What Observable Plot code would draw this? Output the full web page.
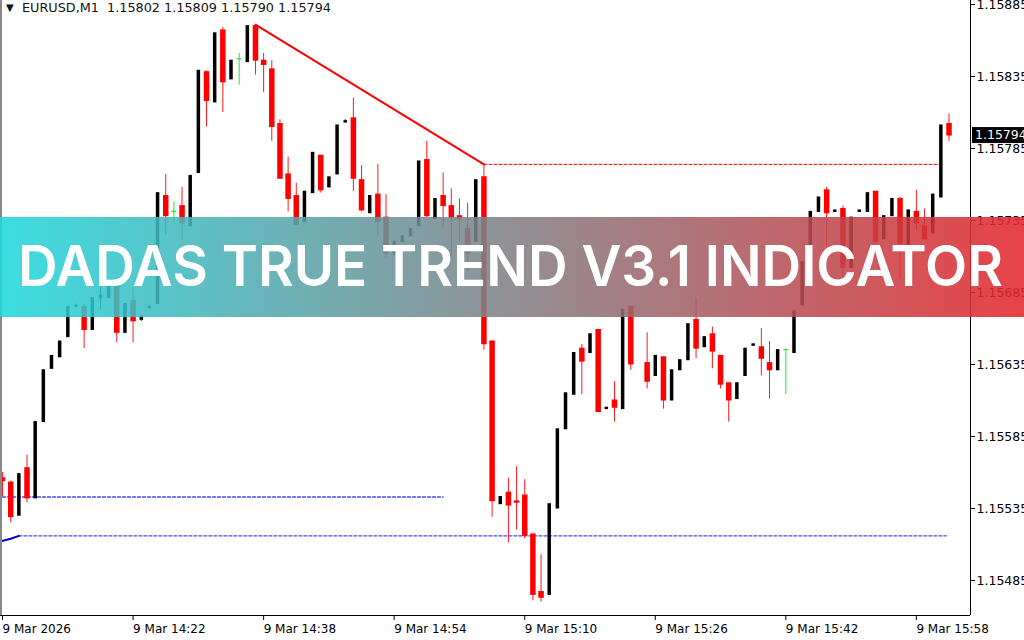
<!DOCTYPE html>
<html>
<head>
<meta charset="utf-8">
<script src="https://cdn.jsdelivr.net/npm/d3@7"></script>
<script src="https://cdn.jsdelivr.net/npm/@observablehq/plot@0.6"></script>
<style>
  html, body { margin: 0; padding: 0; background: #fff; width: 1024px; height: 640px; overflow: hidden; }
  #wrap { position: relative; width: 1024px; height: 640px; font-family: "DejaVu Sans", sans-serif; }
  #wrap > svg.plotchart { position: absolute; left: 0; top: 0; }
  #hdr { position: absolute; left: 6px; top: 0px; font-size: 12.8px; color: #111; white-space: pre; line-height: 16px; }
  #hdr .tri { font-size: 10px; display: inline-block; width: 16px; vertical-align: 1px; }
  #banner { position: absolute; left: 0; top: 217px; }
</style>
</head>
<body>
<div id="wrap">
  <div id="hdr"><span class="tri">▼</span><span id="hdrtext"></span></div>
  <svg id="banner" width="1024" height="100">
    <defs>
      <linearGradient id="bg" x1="0" x2="1" y1="0" y2="0">
        <stop offset="0" stop-color="#1fd8dd"/>
        <stop offset="1" stop-color="#e4262c"/>
      </linearGradient>
    </defs>
    <rect width="1024" height="100" fill="url(#bg)" opacity="0.87"/>
    <text x="18" y="69" fill="#fff" font-family="Inter, 'Open Sans', sans-serif" font-size="56" font-weight="600" textLength="985" lengthAdjust="spacingAndGlyphs">DADAS TRUE TREND V3.1 INDICATOR</text>
  </svg>
</div>
<script>
// ---------- data ----------
const symbol = "EURUSD";
const period = "M1";
const startTime = "2026-03-09T14:06:00Z";   // first bar; one bar per minute (null = no bar)

const opens = [
 1.15556,1.15553,1.15530,1.15563,1.15542,1.15595,1.15632,1.15640,1.15654,1.15675,
 1.15675,1.15659,1.15681,1.15681,1.15691,1.15657,1.15679,1.15666,1.15674,1.15677,
 1.15752,1.15741,1.15745,1.15731,1.15768,1.15838,1.15817,1.15867,1.15833,1.15847,
 1.15845,1.15870,1.15846,1.15840,1.15802,1.15767,1.15752,1.15734,1.15754,1.15780,
 1.15758,1.15767,1.15803,1.15806,1.15763,1.15740,1.15753,1.15737,1.15712,1.15720,
 1.15724,1.15731,1.15777,1.15736,1.15752,1.15745,1.15738,1.15729,1.15720,1.15765,
 1.15651,1.15538,1.15546,1.15540,1.15544,1.15517,1.15477,1.15475,1.15535,1.15590,
 1.15614,1.15646,1.15643,1.15659,1.15604,1.15610,1.15604,1.15675,null,1.15636,
 1.15627,1.15640,1.15610,1.15631,1.15638,1.15666,1.15647,1.15656,1.15641,1.15622,
 1.15611,1.15627,1.15648,1.15647,1.15636,1.15631,1.15645,1.15643,1.15676,1.15706,
 1.15741,1.15756,1.15741,1.15743,1.15702,1.15741,1.15741,1.15755,1.15722,1.15738,
 1.15750,1.15718,1.15741,1.15731,1.15726,1.15751,1.15802
];
const highs = [
 1.15560,1.15554,1.15559,1.15572,1.15595,1.15631,1.15641,1.15651,1.15675,1.15677,
 1.15677,1.15681,1.15691,1.15691,1.15692,1.15677,1.15688,1.15669,1.15676,1.15754,
 1.15767,1.15748,1.15758,1.15766,1.15839,1.15839,1.15865,1.15869,1.15846,1.15851,
 1.15870,1.15871,1.15851,1.15846,1.15805,1.15779,1.15761,1.15755,1.15782,1.15780,
 1.15765,1.15801,1.15805,1.15820,1.15773,1.15752,1.15774,1.15753,1.15721,1.15724,
 1.15729,1.15776,1.15790,1.15750,1.15768,1.15757,1.15750,1.15747,1.15763,1.15774,
 1.15651,1.15543,1.15556,1.15564,1.15555,1.15517,1.15503,1.15538,1.15590,1.15615,
 1.15643,1.15649,1.15656,1.15659,1.15605,1.15623,1.15673,1.15676,null,1.15657,
 1.15641,1.15640,1.15631,1.15638,1.15663,1.15681,1.15654,1.15661,1.15641,1.15622,
 1.15622,1.15646,1.15649,1.15660,1.15651,1.15645,1.15646,1.15672,1.15706,1.15741,
 1.15751,1.15758,1.15742,1.15745,1.15737,1.15742,1.15754,1.15755,1.15738,1.15750,
 1.15751,1.15742,1.15756,1.15743,1.15753,1.15801,1.15809
];
const lows = [
 1.15543,1.15525,1.15530,1.15539,1.15542,1.15595,1.15632,1.15640,1.15654,1.15675,
 1.15646,1.15659,1.15673,1.15681,1.15650,1.15657,1.15650,1.15665,1.15674,1.15677,
 1.15725,1.15733,1.15721,1.15731,1.15768,1.15800,1.15817,1.15810,1.15833,1.15829,
 1.15845,1.15836,1.15824,1.15790,1.15764,1.15741,1.15731,1.15734,1.15754,1.15754,
 1.15758,1.15767,1.15803,1.15755,1.15741,1.15740,1.15724,1.15709,1.15710,1.15720,
 1.15724,1.15731,1.15737,1.15736,1.15730,1.15709,1.15720,1.15700,1.15720,1.15645,
 1.15529,1.15538,1.15511,1.15520,1.15514,1.15471,1.15470,1.15475,1.15535,1.15590,
 1.15614,1.15614,1.15643,1.15602,1.15604,1.15595,1.15604,1.15631,null,1.15618,
 1.15627,1.15604,1.15610,1.15631,1.15638,1.15639,1.15647,1.15632,1.15618,1.15595,
 1.15611,1.15627,1.15648,1.15627,1.15611,1.15631,1.15614,1.15643,1.15676,1.15706,
 1.15741,1.15717,1.15741,1.15695,1.15702,1.15741,1.15741,1.15719,1.15722,1.15738,
 1.15694,1.15718,1.15728,1.15721,1.15726,1.15751,1.15790
];
const closes = [
 1.15554,1.15529,1.15559,1.15542,1.15595,1.15631,1.15641,1.15651,1.15675,1.15676,
 1.15659,1.15681,1.15683,1.15691,1.15657,1.15677,1.15665,1.15668,1.15675,1.15754,
 1.15738,1.15741,1.15733,1.15766,1.15839,1.15818,1.15865,1.15831,1.15846,1.15847,
 1.15870,1.15846,1.15843,1.15800,1.15764,1.15750,1.15732,1.15755,1.15782,1.15756,
 1.15765,1.15801,1.15804,1.15764,1.15742,1.15752,1.15734,1.15712,1.15720,1.15724,
 1.15729,1.15776,1.15738,1.15750,1.15745,1.15737,1.15736,1.15712,1.15763,1.15649,
 1.15540,1.15543,1.15537,1.15539,1.15516,1.15475,1.15473,1.15538,1.15590,1.15615,
 1.15643,1.15637,1.15656,1.15602,1.15605,1.15605,1.15673,1.15635,null,1.15623,
 1.15641,1.15610,1.15631,1.15638,1.15663,1.15646,1.15654,1.15644,1.15621,1.15610,
 1.15622,1.15646,1.15649,1.15639,1.15631,1.15645,1.15645,1.15672,1.15706,1.15741,
 1.15751,1.15740,1.15742,1.15702,1.15737,1.15742,1.15754,1.15720,1.15738,1.15750,
 1.15719,1.15742,1.15733,1.15722,1.15753,1.15801,1.15794
];

// indicator lines
const trendTimes = ["2026-03-09T14:37:00Z", "2026-03-09T15:05:00Z"];
const trendPrices = [1.15871, 1.15774];
const resistTimes = ["2026-03-09T15:05:00Z", "2026-03-09T16:01:20Z"];
const resistPrice = 1.15774;
const supportUpTimes = ["2026-03-09T14:06:00Z", "2026-03-09T15:00:00Z"];
const supportUpPrice = 1.15543;
const supportLowTimes = ["2026-03-09T14:08:00Z", "2026-03-09T16:01:40Z"];
const supportLowPrice = 1.15516;
const blueTimes = ["2026-03-09T14:05:00Z", "2026-03-09T14:07:00Z", "2026-03-09T14:08:00Z"];
const bluePrices = [1.15511, 1.15514, 1.15516];

// axes
const priceTicks = [1.15885, 1.15835, 1.15785, 1.15735, 1.15685, 1.15635, 1.15585, 1.15535, 1.15485];
const timeTicks = ["14:06", "14:22", "14:38", "14:54", "15:10", "15:26", "15:42", "15:58"];
const xDomain = ["2026-03-09T14:05:45Z", "2026-03-09T16:04:38Z"];
const yDomain = [1.154607, 1.158878];

// ---------- build ----------
const t0 = Date.parse(startTime);
const bars = opens.map((o, i) => ({
  t: new Date(t0 + i * 60000), o, h: highs[i], l: lows[i], c: closes[i]
})).filter(d => d.o != null);
const kind = d => d.c > d.o ? "bull" : d.c < d.o ? "bear" : "doji";
const colorOf = d => ({bull: "#000", bear: "#ff1a1a", doji: "#22e822"})[kind(d)];
const bodyHi = d => Math.max(d.o, d.c), bodyLo = d => Math.min(d.o, d.c);

const toDate = s => new Date(s);
const trend = trendTimes.map((t, i) => ({t: toDate(t), p: trendPrices[i]}));
const resist = resistTimes.map(t => ({t: toDate(t), p: resistPrice}));
const supUp = supportUpTimes.map(t => ({t: toDate(t), p: supportUpPrice}));
const supLow = supportLowTimes.map(t => ({t: toDate(t), p: supportLowPrice}));
const blue = blueTimes.map((t, i) => ({t: toDate(t), p: bluePrices[i]}));
const xTicks = timeTicks.map(s => new Date(`2026-03-09T${s}:00Z`));
const fmtFirst = d3.utcFormat("%-d %b %Y"), fmtRest = d3.utcFormat("%-d %b %H:%M");

const chart = Plot.plot({
  width: 1024, height: 640,
  marginLeft: 0, marginRight: 54, marginTop: 0, marginBottom: 25,
  style: {fontFamily: "'DejaVu Sans', sans-serif", fontSize: "12px", background: "transparent", color: "#000"},
  x: {type: "utc", domain: xDomain.map(toDate), label: null},
  y: {domain: yDomain, label: null},
  marks: [
    Plot.line(supUp, {x: "t", y: "p", stroke: "#4646ff", strokeWidth: 1.3, strokeDasharray: "3,2"}),
    Plot.line(supLow, {x: "t", y: "p", stroke: "#4646ff", strokeWidth: 1.3, strokeDasharray: "3,2"}),
    Plot.line(blue, {x: "t", y: "p", stroke: "#0000d0", strokeWidth: 2, clip: true}),
    Plot.line(resist, {x: "t", y: "p", stroke: "#ff0000", strokeWidth: 1, strokeDasharray: "3,2"}),
    Plot.line(trend, {x: "t", y: "p", stroke: "#ff0000", strokeWidth: 2}),
    Plot.ruleX(bars, {x: "t", y1: "h", y2: "l", stroke: colorOf, strokeWidth: 1}),
    Plot.ruleX(bars.filter(d => kind(d) === "bear"), {x: "t", y1: bodyHi, y2: bodyLo, stroke: "#ff0000", strokeWidth: 5.5, insetTop: -0.5, insetBottom: -0.5}),
    Plot.ruleX(bars.filter(d => kind(d) === "bull"), {x: "t", y1: bodyHi, y2: bodyLo, stroke: "#000", strokeWidth: 3.5, insetTop: -0.5, insetBottom: -0.5}),
    Plot.ruleX(bars.filter(d => kind(d) === "doji"), {x: "t", y1: bodyHi, y2: bodyLo, stroke: "#22e822", strokeWidth: 5, insetTop: -0.6, insetBottom: -0.6}),
    Plot.ruleX([xDomain[0]].map(toDate), {stroke: "#888", strokeWidth: 3}),
    Plot.ruleX([xDomain[1]].map(toDate), {stroke: "#000", strokeWidth: 1}),
    Plot.ruleY([yDomain[0]], {stroke: "#000", strokeWidth: 1}),
    Plot.axisY(priceTicks, {anchor: "right", label: null, tickSize: 4, tickPadding: 2, tickFormat: d3.format(".5f"), fontSize: 12.5}),
    Plot.axisX(xTicks, {anchor: "bottom", label: null, tickSize: 5, tickPadding: 4, textAnchor: "start", fontSize: 12,
      tickFormat: d => d.getTime() === xTicks[0].getTime() ? fmtFirst(d) : fmtRest(d)})
  ]
});
chart.classList.add("plotchart");
const wrap = document.getElementById("wrap");
wrap.insertBefore(chart, wrap.firstChild);

// current price label (positioned with the plot's own y scale)
const last = bars[bars.length - 1];
const yPix = chart.scale("y").apply(last.c);
const svg = d3.select(chart);
const lab = svg.append("g").attr("text-anchor", "start");
lab.append("rect").attr("x", 1024 - 54 + 2).attr("y", yPix - 8).attr("width", 54).attr("height", 16).attr("fill", "#000");
lab.append("text").attr("x", 1024 - 54 + 5).attr("y", yPix).attr("dy", "0.35em")
  .attr("fill", "#fff").attr("font-size", 12.5).text(d3.format(".5f")(last.c));

// header
const f5 = d3.format(".5f");
document.getElementById("hdrtext").textContent =
  `${symbol},${period}  ${f5(last.o)} ${f5(last.h)} ${f5(last.l)} ${f5(last.c)}`;
</script>
</body>
</html>
